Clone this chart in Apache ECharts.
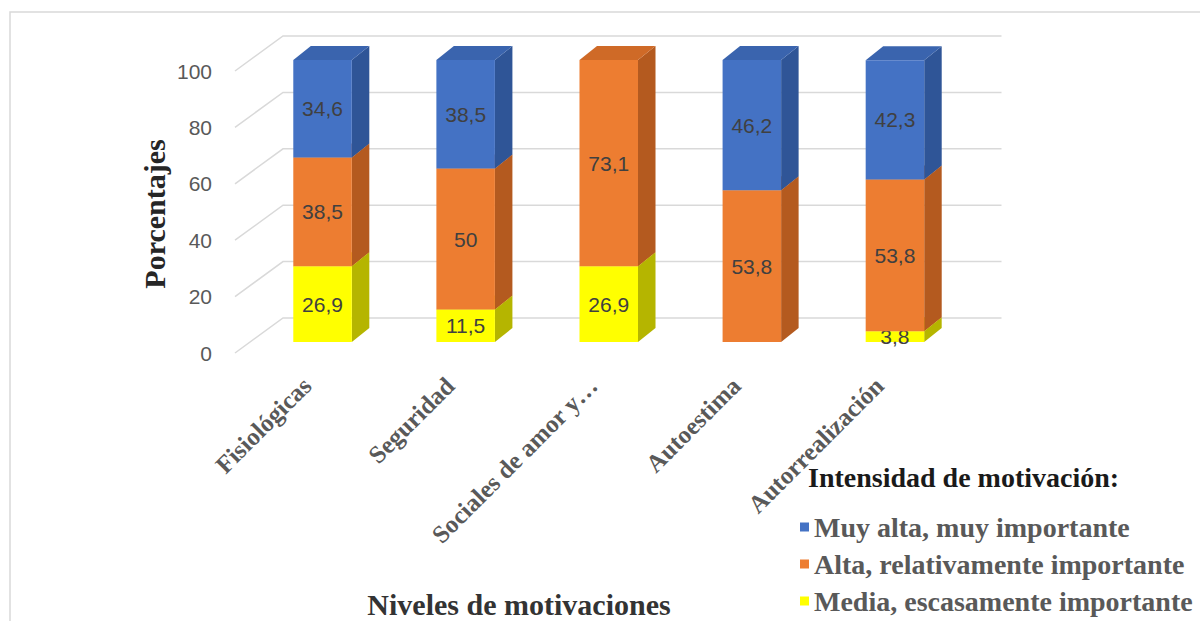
<!DOCTYPE html>
<html>
<head>
<meta charset="utf-8">
<script src="https://cdn.jsdelivr.net/npm/echarts@6/dist/echarts.min.js"></script>
<style>html,body{margin:0;padding:0;background:#fff;}#c{width:1200px;height:621px;}</style>
</head>
<body>
<div id="c"></div>
<script>
const categories = ['Fisiológicas', 'Seguridad', 'Sociales de amor y…', 'Autoestima', 'Autorrealización'];
const muyAlta = [34.6, 38.5, 0, 46.2, 42.3];
const alta = [38.5, 50, 73.1, 53.8, 53.8];
const media = [26.9, 11.5, 26.9, 0, 3.8];
const yTicks = [0, 20, 40, 60, 80, 100];
const seriesNames = ['Muy alta, muy importante', 'Alta, relativamente importante', 'Media, escasamente importante'];

const DX = 17.5, DY = -14;
const SERIF = '"Liberation Serif", "Times New Roman", serif';
const SANS = '"Liberation Sans", Arial, sans-serif';

function fmt(v) { return String(v).replace('.', ','); }

function segRender(colors) {
  return function (params, api) {
    const i = api.value(0), v = api.value(1), b = api.value(2);
    if (!v) return null;
    const pT = api.coord([i, b + v]);
    const pB = api.coord([i, b]);
    const w = api.size([1, 0])[0] * 0.409;
    const x0 = pT[0] - w / 2, x1 = x0 + w;
    const yT = pT[1], yB = pB[1];
    return {
      type: 'group',
      children: [
        { type: 'polygon', shape: { points: [[x1, yT], [x1 + DX, yT + DY], [x1 + DX, yB + DY], [x1, yB]] }, style: { fill: colors[1] } },
        { type: 'polygon', shape: { points: [[x0, yT], [x1, yT], [x1 + DX, yT + DY], [x0 + DX, yT + DY]] }, style: { fill: colors[2] } },
        { type: 'rect', shape: { x: x0, y: yT, width: w, height: yB - yT }, style: { fill: colors[0] } },
        { type: 'text', style: { text: fmt(v), x: (x0 + x1) / 2, y: (yT + yB) / 2, align: 'center', verticalAlign: 'middle', font: '21px ' + SANS, fill: '#404040' } }
      ]
    };
  };
}

function stackData(vals, bases) {
  return vals.map((v, i) => [i, v, bases[i]]);
}
const zeros = categories.map(() => 0);
const baseAlta = media.slice();
const baseMuy = media.map((m, i) => m + alta[i]);

const chart = echarts.init(document.getElementById('c'), null, { renderer: 'svg' });
chart.setOption({
  animation: false,
  backgroundColor: '#ffffff',
  grid: { left: 251, right: 233.5, top: 60, bottom: 279, containLabel: false },
  xAxis: {
    type: 'category',
    data: categories,
    axisLine: { show: false },
    axisTick: { show: false },
    axisLabel: {
      rotate: 45, margin: 24, padding: [0, 22, 0, 0],
      fontFamily: SERIF, fontWeight: 'bold', fontSize: 25, color: '#595959'
    }
  },
  yAxis: {
    type: 'value', min: 0, max: 100, interval: 20,
    axisLine: { show: false }, axisTick: { show: false }, splitLine: { show: false },
    axisLabel: { margin: 39, verticalAlign: 'top', lineHeight: 22, fontFamily: SANS, fontSize: 21, color: '#595959' }
  },
  legend: {
    orient: 'vertical', left: 800, top: 512,
    itemWidth: 9, itemHeight: 9, itemGap: 7,
    padding: 0,
    selectedMode: false,
    textStyle: { fontFamily: SERIF, fontWeight: 'bold', fontSize: 28, lineHeight: 30, color: '#595959' },
    data: seriesNames.map(n => ({ name: n, icon: 'rect' }))
  },
  graphic: [
    { type: 'polyline', shape: { points: [[10, 621], [10, 12], [1200, 12]] }, style: { stroke: '#d9d9d9', lineWidth: 1.5, fill: null } },
    { type: 'text', left: 808, top: 463, style: { text: 'Intensidad de motivación:', font: 'bold 28px ' + SERIF, fill: '#1a1a1a' } },
    { type: 'text', x: 154, y: 214, rotation: Math.PI / 2, style: { text: 'Porcentajes', font: 'bold 30px ' + SERIF, fill: '#262626', align: 'center', verticalAlign: 'middle' } },
    { type: 'text', x: 519, y: 604, style: { text: 'Niveles de motivaciones', font: 'bold 30px ' + SERIF, fill: '#333333', align: 'center', verticalAlign: 'middle' } }
  ],
  series: [
    {
      type: 'custom', name: 'grid', silent: true, z: 1,
      encode: { x: 0, y: 1 },
      data: yTicks.map(t => [0, t]),
      renderItem: function (params, api) {
        const cs = params.coordSys;
        const y = api.coord([0, api.value(1)])[1];
        return { type: 'polyline', shape: { points: [[cs.x - 16, y + 11], [cs.x + 32, y - 24], [cs.x + cs.width + 35, y - 24]] }, style: { stroke: '#d9d9d9', lineWidth: 1.5, fill: null } };
      }
    },
    {
      type: 'custom', name: seriesNames[2], z: 2,
      itemStyle: { color: '#ffff00' },
      encode: { x: 0, y: 1 },
      data: stackData(media, zeros),
      renderItem: segRender(['#ffff00', '#b5b500', '#e0e000'])
    },
    {
      type: 'custom', name: seriesNames[1], z: 3,
      itemStyle: { color: '#ed7d31' },
      encode: { x: 0, y: 1 },
      data: stackData(alta, baseAlta),
      renderItem: segRender(['#ed7d31', '#b45a1f', '#cf6a27'])
    },
    {
      type: 'custom', name: seriesNames[0], z: 4,
      itemStyle: { color: '#4472c4' },
      encode: { x: 0, y: 1 },
      data: stackData(muyAlta, baseMuy),
      renderItem: segRender(['#4472c4', '#2f5597', '#3a64ae'])
    }
  ]
});
</script>
</body>
</html>
